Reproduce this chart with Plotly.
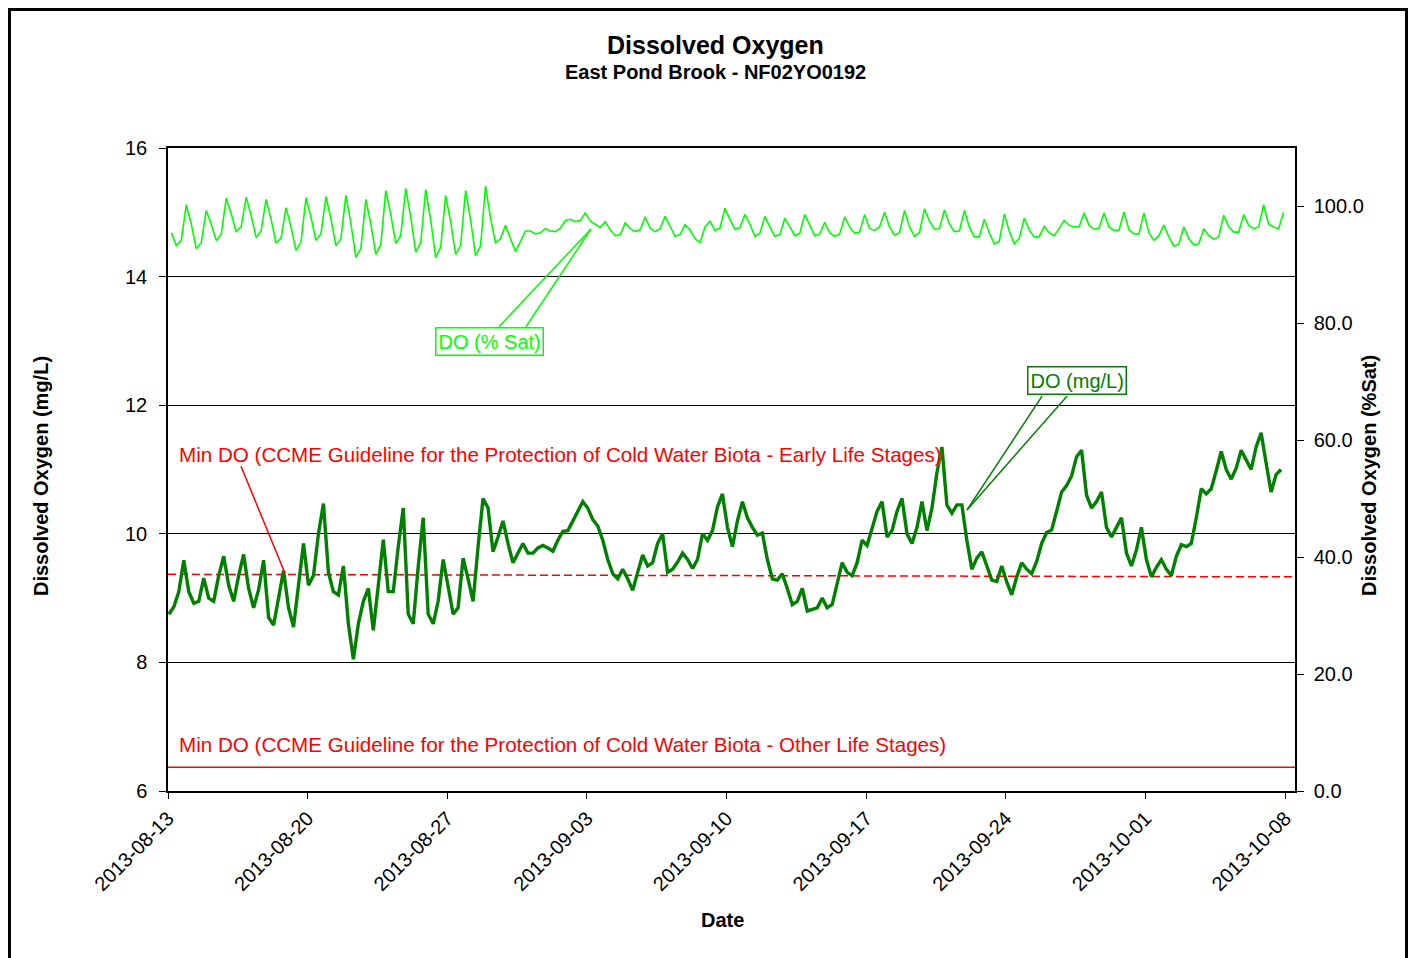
import pandas as pd
import plotly.graph_objects as go

T0 = pd.Timestamp("2013-08-13")

# DO (mg/L), one reading every 6 h starting 2013-08-13 01:00
do_mgl = [
    8.75, 8.86, 9.10, 9.59, 9.10, 8.92, 8.95, 9.31,
    9.00, 8.95, 9.35, 9.65, 9.20, 8.95, 9.35, 9.68,
    9.15, 8.85, 9.13, 9.59, 8.70, 8.58, 9.00, 9.43,
    8.85, 8.55, 9.20, 9.85, 9.20, 9.35, 10.00, 10.47,
    9.40, 9.10, 9.05, 9.50, 8.60, 8.05, 8.60, 8.95,
    9.15, 8.50, 9.20, 9.91, 9.10, 9.10, 9.80, 10.40,
    8.75, 8.60, 9.49, 10.25, 8.75, 8.60, 8.95, 9.60,
    9.18, 8.75, 8.85, 9.62, 9.30, 8.95, 9.80, 10.55,
    10.40, 9.72, 9.95, 10.20, 9.85, 9.55, 9.70, 9.85,
    9.70, 9.70, 9.78, 9.82, 9.78, 9.73, 9.90, 10.04,
    10.05, 10.20, 10.35, 10.50, 10.40, 10.22, 10.12, 9.90,
    9.60, 9.38, 9.30, 9.45, 9.30, 9.12, 9.40, 9.67,
    9.50, 9.55, 9.85, 10.00, 9.40, 9.45, 9.56, 9.70,
    9.60, 9.46, 9.60, 10.00, 9.90, 10.05, 10.42, 10.62,
    10.10, 9.80, 10.20, 10.50, 10.25, 10.10, 9.98, 10.01,
    9.60, 9.30, 9.28, 9.38, 9.15, 8.90, 8.95, 9.15,
    8.80, 8.83, 8.85, 9.00, 8.85, 8.90, 9.20, 9.55,
    9.40, 9.35, 9.55, 9.90, 9.82, 10.10, 10.35, 10.50,
    9.95, 10.05, 10.35, 10.55, 10.00, 9.85, 10.10, 10.50,
    10.05, 10.40, 10.95, 11.35, 10.45, 10.32, 10.45, 10.45,
    9.90, 9.45, 9.62, 9.72, 9.50, 9.28, 9.26, 9.50,
    9.25, 9.05, 9.33, 9.55, 9.45, 9.38, 9.57, 9.85,
    10.02, 10.06, 10.35, 10.65, 10.75, 10.90, 11.20, 11.30,
    10.60, 10.40, 10.50, 10.65, 10.10, 9.95, 10.10, 10.25,
    9.70, 9.50, 9.75, 10.10, 9.60, 9.33, 9.48, 9.60,
    9.45, 9.35, 9.65, 9.83, 9.80, 9.85, 10.25, 10.70,
    10.62, 10.70, 10.98, 11.28, 11.00, 10.85, 11.02, 11.30,
    11.15, 11.00, 11.35, 11.57, 11.10, 10.65, 10.92, 11.00,
]

# DO (% Sat), one reading every 6 h starting 2013-08-13 04:00
do_sat = [
    95.5, 93.3, 94.2, 100.3, 97.0, 92.8, 93.8, 99.3,
    97.0, 94.2, 95.2, 101.4, 98.8, 95.7, 96.5, 101.6,
    98.5, 94.7, 95.8, 101.2, 97.8, 93.7, 94.6, 99.8,
    96.5, 92.5, 93.9, 101.5, 98.2, 94.2, 95.3, 101.7,
    97.9, 93.3, 94.5, 101.9, 97.1, 91.3, 92.8, 101.2,
    97.0, 91.8, 93.5, 102.7, 98.6, 93.7, 95.0, 103.1,
    98.2, 92.2, 93.8, 102.9, 97.7, 91.3, 93.0, 101.9,
    97.4, 91.8, 93.3, 102.7, 97.7, 91.6, 93.2, 103.5,
    98.0, 93.8, 94.5, 96.8, 94.5, 92.3, 94.0, 95.8,
    95.8, 95.3, 95.5, 96.2, 95.8, 95.7, 96.3, 97.6,
    97.8, 97.4, 97.6, 98.9, 97.5, 97.0, 96.4, 97.4,
    96.0, 95.0, 95.2, 97.2, 96.2, 95.7, 96.0, 98.2,
    96.3, 95.7, 96.2, 98.3, 96.5, 94.9, 95.2, 96.9,
    96.0, 94.5, 93.8, 96.5, 97.5, 95.9, 96.3, 99.7,
    97.8, 96.1, 96.4, 98.6, 97.0, 94.9, 95.4, 98.3,
    96.5, 94.9, 95.2, 98.0, 96.5, 95.0, 95.4, 98.6,
    96.8, 95.0, 95.3, 97.3, 95.5, 94.9, 95.3, 98.2,
    96.5, 95.4, 95.6, 98.6, 96.2, 95.9, 96.5, 99.0,
    96.5, 95.1, 95.5, 99.3, 96.5, 94.9, 95.5, 99.6,
    97.5, 96.1, 96.2, 99.4, 97.0, 95.7, 95.8, 99.3,
    96.5, 94.8, 94.8, 97.8, 95.5, 93.6, 94.0, 98.7,
    95.8, 93.6, 94.5, 98.0, 96.0, 94.8, 94.8, 96.6,
    95.5, 95.0, 96.2, 97.6, 96.8, 96.5, 96.5, 98.9,
    96.8, 96.1, 96.3, 98.9, 96.5, 95.9, 95.9, 99.0,
    96.0, 95.3, 95.3, 98.9, 95.5, 94.2, 95.0, 96.8,
    94.8, 93.2, 93.6, 96.5, 94.5, 93.4, 93.6, 96.2,
    95.0, 94.4, 94.8, 98.5, 96.5, 95.6, 95.6, 98.6,
    96.8, 96.2, 96.5, 100.3, 97.0, 96.5, 96.2, 99.0,
]

guide_dates = ["2013-08-13 00:00", "2013-10-08 12:00"]
guide_early = [9.37, 9.33]
guide_other = [6.37, 6.37]

mgl_times = pd.date_range("2013-08-13 01:00", periods=len(do_mgl), freq="6h")
sat_times = pd.date_range("2013-08-13 04:00", periods=len(do_sat), freq="6h")

FONT = "Liberation Sans, Arial, sans-serif"
RED = "#FF0000"
LIME = "#00FF00"
DARK_GREEN = "#008000"

FIG_W, FIG_H = 1413, 958

# plot area in page pixels, used for placing the outside texts
L, R, T, B = 168, 1295, 148, 791


def paper_x(px):
    return (px - L) / (R - L)


def paper_y(py):
    return (B - py) / (B - T)


def day(n):
    return (T0 + pd.Timedelta(days=n)).strftime("%Y-%m-%d %H:%M")


fig = go.Figure()

fig.add_trace(
    go.Scatter(
        x=guide_dates, y=guide_other, mode="lines",
        line=dict(color=RED, width=1.5), hoverinfo="skip",
    )
)
fig.add_trace(
    go.Scatter(
        x=guide_dates, y=guide_early, mode="lines",
        line=dict(color=RED, width=1.5, dash="8px,4px"), hoverinfo="skip",
    )
)
fig.add_trace(
    go.Scatter(
        x=sat_times, y=do_sat, mode="lines", name="DO (% Sat)",
        line=dict(color=LIME, width=1.6), yaxis="y2",
    )
)
fig.add_trace(
    go.Scatter(
        x=mgl_times, y=do_mgl, mode="lines", name="DO (mg/L)",
        line=dict(color=DARK_GREEN, width=3.4),
    )
)

annotations = [
    dict(text="<b>Dissolved Oxygen</b>", x=paper_x(715), y=paper_y(45),
         font=dict(size=25)),
    dict(text="<b>East Pond Brook - NF02YO0192</b>", x=paper_x(715), y=paper_y(72),
         font=dict(size=20)),
    dict(text="<b>Date</b>", x=paper_x(722), y=paper_y(920), font=dict(size=20)),
    dict(text="<b>Dissolved Oxygen (mg/L)</b>", x=paper_x(41), y=paper_y(476),
         textangle=-90, font=dict(size=20)),
    dict(text="<b>Dissolved Oxygen (%Sat)</b>", x=paper_x(1369), y=paper_y(476),
         textangle=-90, font=dict(size=20)),
    dict(text="Min DO (CCME Guideline for the Protection of Cold Water Biota - Early Life Stages)",
         x=paper_x(177), y=paper_y(454), xanchor="left", font=dict(size=20.6, color=RED)),
    dict(text="Min DO (CCME Guideline for the Protection of Cold Water Biota - Other Life Stages)",
         x=paper_x(177), y=paper_y(744), xanchor="left", font=dict(size=20.6, color=RED)),
]
for a in annotations:
    a.setdefault("xanchor", "center")
    a.update(xref="paper", yref="paper", yanchor="middle", showarrow=False)

annotations += [
    dict(text="DO (% Sat)", x=day(16.115), y=12.99, xref="x", yref="y", showarrow=False,
         xanchor="center", yanchor="middle",
         font=dict(size=20, color=LIME), bordercolor=LIME, borderwidth=1.5,
         borderpad=2, bgcolor="white"),
    dict(text="DO (mg/L)", x=day(45.56), y=12.38, xref="x", yref="y", showarrow=False,
         xanchor="center", yanchor="middle",
         font=dict(size=20, color=DARK_GREEN), bordercolor=DARK_GREEN, borderwidth=1.5,
         borderpad=2, bgcolor="white"),
]

shapes = [
    # chart border
    dict(type="rect", xref="paper", yref="paper",
         x0=paper_x(9.5), x1=paper_x(1406.5), y0=paper_y(1000), y1=paper_y(9.5),
         line=dict(color="black", width=3)),
    # callout wedges and pointer
    dict(type="line", xref="x", yref="y", x0=day(16.59), y0=13.22, x1=day(21.2), y1=14.74,
         line=dict(color=LIME, width=1.5)),
    dict(type="line", xref="x", yref="y", x0=day(17.94), y0=13.22, x1=day(21.2), y1=14.74,
         line=dict(color=LIME, width=1.5)),
    dict(type="line", xref="x", yref="y", x0=day(43.81), y0=12.14, x1=day(40.05), y1=10.37,
         line=dict(color=DARK_GREEN, width=1.5)),
    dict(type="line", xref="x", yref="y", x0=day(45.06), y0=12.14, x1=day(40.05), y1=10.37,
         line=dict(color=DARK_GREEN, width=1.5)),
    dict(type="line", xref="x", yref="y", x0=day(3.66), y0=11.05, x1=day(5.86), y1=9.39,
         line=dict(color=RED, width=1.5)),
]

fig.update_layout(
    width=FIG_W,
    height=FIG_H,
    margin=dict(l=L, r=FIG_W - R, t=T, b=FIG_H - B),
    paper_bgcolor="white",
    plot_bgcolor="white",
    font=dict(family=FONT, color="black", size=20),
    showlegend=False,
    annotations=annotations,
    shapes=shapes,
    xaxis=dict(
        type="date",
        range=[day(0), day(56.49)],
        tick0="2013-08-13",
        dtick=7 * 86400000,
        tickformat="%Y-%m-%d",
        tickangle=-45,
        ticks="outside",
        ticklen=6,
        tickcolor="black",
        showline=True,
        linecolor="black",
        linewidth=1.5,
        mirror=True,
        showgrid=False,
        zeroline=False,
    ),
    yaxis=dict(
        range=[6, 16],
        dtick=2,
        ticks="outside",
        ticklen=7,
        tickcolor="black",
        ticklabelstandoff=8,
        showline=True,
        linecolor="black",
        linewidth=1.5,
        showgrid=True,
        gridcolor="black",
        gridwidth=1,
        zeroline=False,
    ),
    yaxis2=dict(
        range=[0, 110],
        dtick=20,
        tickformat=".1f",
        overlaying="y",
        side="right",
        ticks="outside",
        ticklen=7,
        tickcolor="black",
        ticklabelstandoff=6,
        showline=True,
        linecolor="black",
        linewidth=1.5,
        showgrid=False,
        zeroline=False,
    ),
)

# drop the default page margin so the figure sits at the window's top-left corner
fig.write_html(
    "out.html",
    config={"displayModeBar": False},
    post_script="document.body.style.margin='0';document.body.style.overflow='hidden';",
)
